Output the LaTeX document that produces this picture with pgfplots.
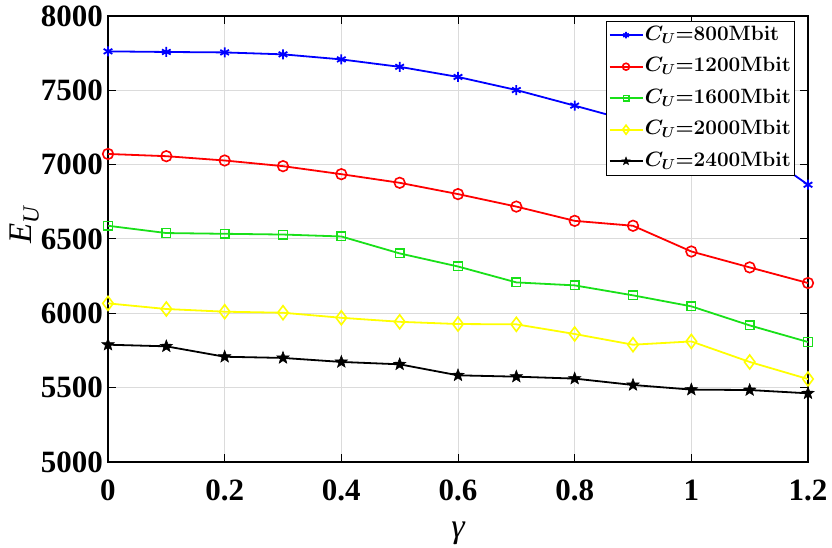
\documentclass[border=0pt]{standalone}
\usepackage{pgfplots}
\pgfplotsset{compat=1.18}
\usepackage{fontspec}
\setmainfont{Liberation Serif}
\definecolor{mygreen}{rgb}{0.1,0.88,0.1}
\definecolor{myyellow}{rgb}{1,1,0}
\pgfdeclareplotmark{fstar}{%
  \pgfpathmoveto{\pgfpointpolar{90}{\pgfplotmarksize}}%
  \pgfpathlineto{\pgfpointpolar{126}{0.42\pgfplotmarksize}}%
  \pgfpathlineto{\pgfpointpolar{162}{\pgfplotmarksize}}%
  \pgfpathlineto{\pgfpointpolar{198}{0.42\pgfplotmarksize}}%
  \pgfpathlineto{\pgfpointpolar{234}{\pgfplotmarksize}}%
  \pgfpathlineto{\pgfpointpolar{270}{0.42\pgfplotmarksize}}%
  \pgfpathlineto{\pgfpointpolar{306}{\pgfplotmarksize}}%
  \pgfpathlineto{\pgfpointpolar{342}{0.42\pgfplotmarksize}}%
  \pgfpathlineto{\pgfpointpolar{18}{\pgfplotmarksize}}%
  \pgfpathlineto{\pgfpointpolar{54}{0.42\pgfplotmarksize}}%
  \pgfpathclose\pgfusepathqfillstroke}
\begin{document}
\begin{tikzpicture}
\begin{axis}[
  name=ax,
  scale only axis,
  width=700pt, height=446pt,
  xmin=0, xmax=1.2, ymin=5000, ymax=8000,
  xtick={0,0.2,0.4,0.6,0.8,1,1.2},
  xticklabels={0,0.2,0.4,0.6,0.8,1,1.2},
  ytick={5000,5500,6000,6500,7000,7500,8000},
  /pgf/number format/assume math mode=true,
  scaled y ticks=false,
  yticklabel style={/pgf/number format/1000 sep={}, inner sep=0pt, xshift=-5pt},
  xticklabel style={inner sep=0pt, yshift=-18pt},
  ticklabel style={font=\fontsize{31}{34}\selectfont\bfseries},
  tick align=inside,
  major tick length=8pt,
  tick style={black, line width=1pt},
  axis line style={black, line width=1.3pt},
  grid=major,
  grid style={gray!28, line width=1pt},
  xlabel={\fontsize{34}{36}\selectfont\itshape γ},
  ylabel={\fontsize{33}{36}\selectfont\itshape E\textsubscript{U}},
  xlabel style={at={(axis description cs:0.5,0)}, anchor=base, yshift=-75pt, inner sep=0pt},
  ylabel style={at={(axis description cs:-0.1086,0.531)}, anchor=base, inner sep=0pt},
  legend style={at={(1,1)}, anchor=north east, xshift=-13pt, yshift=-4.7pt,
    draw=black, line width=1pt,
    font=\fontsize{22}{26}\selectfont\boldmath, row sep=7.5pt, inner sep=2pt,
    nodes={inner sep=1.5pt, text height=15.5pt, text depth=5.5pt},
    cells={anchor=west}},
  legend cell align=left,
  legend image code/.code={\draw[mark repeat=2,mark phase=2,#1,/tikz/every mark/.append style={scale=0.65}] plot coordinates {(0cm,0cm) (0.58cm,0cm) (1.16cm,0cm)};},
  every axis plot/.append style={line width=1.8pt, mark size=5.3pt},
]
\addplot[blue, mark=asterisk, mark size=5pt, mark options={line width=1.8pt}] coordinates {
(0,7762)(0.1,7758)(0.2,7755)(0.3,7742)(0.4,7708)(0.5,7658)(0.6,7590)
(0.7,7502)(0.8,7397)(0.9,7290)(1.0,7215)(1.1,7140)(1.2,6865)};
\addlegendentry{$C_U{=}\mathbf{800Mbit}$}
\addplot[red, mark=o, mark options={line width=1.6pt}] coordinates {
(0,7072)(0.1,7057)(0.2,7028)(0.3,6990)(0.4,6936)(0.5,6878)(0.6,6802)
(0.7,6718)(0.8,6622)(0.9,6589)(1.0,6416)(1.1,6309)(1.2,6204)};
\addlegendentry{$C_U{=}\mathbf{1200Mbit}$}
\addplot[mygreen, mark=square, mark size=4.3pt, mark options={line width=1.4pt}] coordinates {
(0,6589)(0.1,6540)(0.2,6535)(0.3,6530)(0.4,6517)(0.5,6403)(0.6,6315)
(0.7,6208)(0.8,6188)(0.9,6121)(1.0,6047)(1.1,5919)(1.2,5807)};
\addlegendentry{$C_U{=}\mathbf{1600Mbit}$}
\addplot[myyellow, mark=diamond, mark size=7pt, mark options={line width=1.6pt}] coordinates {
(0,6067)(0.1,6029)(0.2,6011)(0.3,6004)(0.4,5970)(0.5,5943)(0.6,5928)
(0.7,5926)(0.8,5861)(0.9,5789)(1.0,5811)(1.1,5673)(1.2,5558)};
\addlegendentry{$C_U{=}\mathbf{2000Mbit}$}
\addplot[black, mark=fstar, mark size=6.5pt, mark options={line width=0.5pt, fill=black}] coordinates {
(0,5789)(0.1,5778)(0.2,5708)(0.3,5700)(0.4,5673)(0.5,5657)(0.6,5583)
(0.7,5574)(0.8,5561)(0.9,5518)(1.0,5487)(1.1,5484)(1.2,5462)};
\addlegendentry{$C_U{=}\mathbf{2400Mbit}$}
\end{axis}
\pgfresetboundingbox
\path[use as bounding box] (ax.south west) ++(-108pt,-86pt) rectangle ++(832pt,548pt);
\end{tikzpicture}
\end{document}
